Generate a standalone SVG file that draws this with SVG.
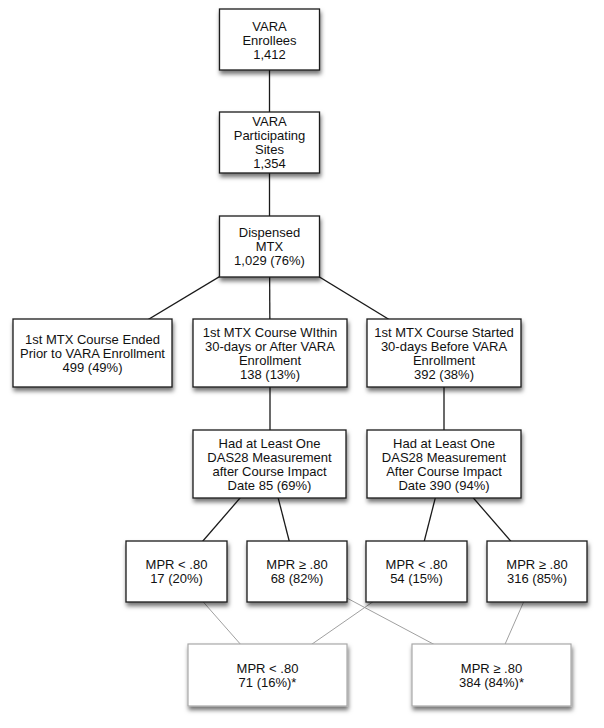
<svg xmlns="http://www.w3.org/2000/svg" width="604" height="728" viewBox="0 0 604 728">
<defs>
<filter id="sh" x="-20%" y="-20%" width="140%" height="150%">
<feDropShadow dx="1" dy="3.5" stdDeviation="2.2" flood-color="#000" flood-opacity="0.55"/>
</filter>
<style>
.box{fill:#fff;stroke:#1a1a1a;stroke-width:1.3;filter:url(#sh)}
.box2{fill:#fff;stroke:#a8a8a8;stroke-width:1.2;filter:url(#sh)}
.t{font-family:"Liberation Sans",Arial,Helvetica,sans-serif;font-size:13px;fill:#111;text-anchor:middle}
.c{stroke:#1a1a1a;stroke-width:1.3;fill:none}
.g{stroke:#a0a0a0;stroke-width:1;fill:none}
</style>
</defs>
<rect width="604" height="728" fill="#fff"/>
<g id="connectors">
<line class="c" x1="269.5" y1="70" x2="269.5" y2="112"/>
<line class="c" x1="269.5" y1="173" x2="269.5" y2="216"/>
<line class="c" x1="269.5" y1="246.5" x2="92.5" y2="353"/>
<line class="c" x1="269.5" y1="246.5" x2="270" y2="353"/>
<line class="c" x1="269.5" y1="246.5" x2="444" y2="353"/>
<line class="c" x1="270" y1="387" x2="270" y2="430"/>
<line class="c" x1="444" y1="387" x2="444" y2="430"/>
<line class="c" x1="269.5" y1="464" x2="176.5" y2="571.5"/>
<line class="c" x1="269.5" y1="464" x2="297" y2="571.5"/>
<line class="c" x1="444" y1="464" x2="416.5" y2="571.5"/>
<line class="c" x1="444" y1="464" x2="537" y2="571.5"/>
<line class="g" x1="176.5" y1="571.5" x2="267.5" y2="675"/>
<line class="g" x1="416.5" y1="571.5" x2="267.5" y2="675"/>
<line class="g" x1="297" y1="571.5" x2="491.5" y2="675"/>
<line class="g" x1="537" y1="571.5" x2="491.5" y2="675"/>
</g>
<g id="n1"><rect class="box" x="219.5" y="9" width="100" height="61"/>
<text class="t" x="269.5" y="30.5">VARA</text><text class="t" x="269.5" y="44.5">Enrollees</text><text class="t" x="269.5" y="58.5">1,412</text></g>
<g id="n2"><rect class="box" x="219.5" y="112" width="100" height="61"/>
<text class="t" x="269.5" y="126">VARA</text><text class="t" x="269.5" y="140">Participating</text><text class="t" x="269.5" y="154">Sites</text><text class="t" x="269.5" y="168">1,354</text></g>
<g id="n3"><rect class="box" x="219.5" y="216" width="100" height="61"/>
<text class="t" x="269.5" y="237">Dispensed</text><text class="t" x="269.5" y="251">MTX</text><text class="t" x="269.5" y="265">1,029 (76%)</text></g>
<g id="n4"><rect class="box" x="13" y="319" width="159" height="68"/>
<text class="t" x="92.5" y="343.5">1st MTX Course Ended</text><text class="t" x="92.5" y="357.5">Prior to VARA Enrollment</text><text class="t" x="92.5" y="371.5">499 (49%)</text></g>
<g id="n5"><rect class="box" x="193" y="319" width="154" height="68"/>
<text class="t" x="270" y="336.5">1st MTX Course WIthin</text><text class="t" x="270" y="350.5">30-days or After VARA</text><text class="t" x="270" y="364.5">Enrollment</text><text class="t" x="270" y="378.5">138 (13%)</text></g>
<g id="n6"><rect class="box" x="367" y="319" width="154" height="68"/>
<text class="t" x="444" y="336.5">1st MTX Course Started</text><text class="t" x="444" y="350.5">30-days Before VARA</text><text class="t" x="444" y="364.5">Enrollment</text><text class="t" x="444" y="378.5">392 (38%)</text></g>
<g id="n7"><rect class="box" x="193" y="430" width="153" height="68"/>
<text class="t" x="269.5" y="447.5">Had at Least One</text><text class="t" x="269.5" y="461.5">DAS28 Measurement</text><text class="t" x="269.5" y="475.5">after Course Impact</text><text class="t" x="269.5" y="489.5">Date 85 (69%)</text></g>
<g id="n8"><rect class="box" x="367" y="430" width="154" height="68"/>
<text class="t" x="444" y="447.5">Had at Least One</text><text class="t" x="444" y="461.5">DAS28 Measurement</text><text class="t" x="444" y="475.5">After Course Impact</text><text class="t" x="444" y="489.5">Date 390 (94%)</text></g>
<g id="n9"><rect class="box" x="126" y="541" width="101" height="61"/>
<text class="t" x="176.5" y="569">MPR &lt; .80</text><text class="t" x="176.5" y="583">17 (20%)</text></g>
<g id="n10"><rect class="box" x="247" y="541" width="100" height="61"/>
<text class="t" x="297" y="569">MPR ≥ .80</text><text class="t" x="297" y="583">68 (82%)</text></g>
<g id="n11"><rect class="box" x="366" y="541" width="101" height="61"/>
<text class="t" x="416.5" y="569">MPR &lt; .80</text><text class="t" x="416.5" y="583">54 (15%)</text></g>
<g id="n12"><rect class="box" x="487" y="541" width="100" height="61"/>
<text class="t" x="537" y="569">MPR ≥ .80</text><text class="t" x="537" y="583">316 (85%)</text></g>
<g id="n13"><rect class="box2" x="188" y="644" width="159" height="62"/>
<text class="t" x="267.5" y="672.5">MPR &lt; .80</text><text class="t" x="267.5" y="686.5">71 (16%)*</text></g>
<g id="n14"><rect class="box2" x="412" y="644" width="159" height="62"/>
<text class="t" x="491.5" y="672.5">MPR ≥ .80</text><text class="t" x="491.5" y="686.5">384 (84%)*</text></g>
</svg>
